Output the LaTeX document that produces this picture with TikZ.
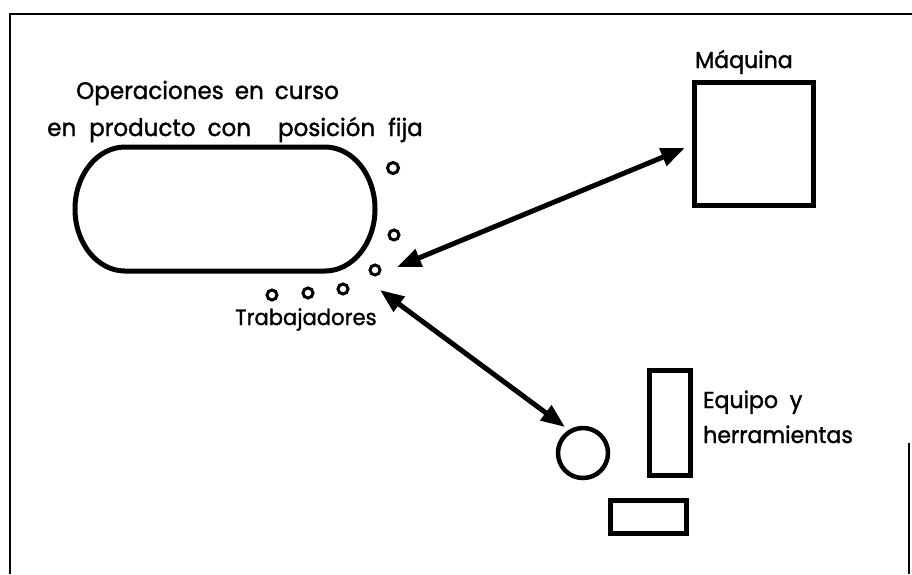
\documentclass[tikz,border=0pt]{standalone}
\usepackage{fontspec}
\setmainfont{Poppins}[FakeStretch=0.96,FakeBold=1.4]
\usetikzlibrary{arrows.meta}

\begin{document}
\begin{tikzpicture}[x=1pt,y=-1pt,
  thick line/.style={line width=5pt},
  box/.style={draw,line width=5pt,inner sep=0pt},
  worker/.style={draw,circle,line width=3pt,minimum size=10pt,inner sep=0pt},
  label/.style={font=\fontsize{23}{26}\selectfont,inner sep=0pt,anchor=base west},
  link/.style={line width=5pt,{Triangle[length=24pt,width=18pt]}-{Triangle[length=24pt,width=18pt]}}]
\useasboundingbox (0,0) rectangle (912,574);
\fill[white] (0,0) rectangle (912,574);

% frame
\draw[line width=2.5pt] (10,574) -- (10,14) -- (912,14);
\draw[line width=2.5pt] (909,443) -- (909,574);

% product in fixed position
\draw[thick line] (125,147) -- (325,147)
  arc[start angle=-90,end angle=90,x radius=50,y radius=62]
  -- (125,271)
  arc[start angle=90,end angle=270,x radius=50,y radius=62] -- cycle;
\node[label,font=\fontsize{24}{27}\selectfont] (title1) at (76,99)
  {Operaciones\hspace{11pt}en\hspace{11pt}curso};
\node[label,font=\fontsize{24}{27}\selectfont] (title2) at (47,136)
  {en\hspace{13pt}producto\hspace{12pt}con\hspace{27pt}posición\hspace{13pt}fija};

% workers
\node[worker,minimum size=11pt] (w1) at (393,168) {};
\node[worker] (w2) at (394,235) {};
\node[worker] (w3) at (375,270) {};
\node[worker] (w4) at (343,289) {};
\node[worker] (w5) at (308,293) {};
\node[worker] (w6) at (272,295) {};
\node[label,font=\fontsize{22}{25}\selectfont] (wlabel) at (235,325) {Trabajadores};

% machine
\node[box,minimum width=119pt,minimum height=123pt] (mach) at (753.5,143.5) {};
\node[label] (mlabel) at (695,68) {Máquina};

% equipment and tools
\node[draw,circle,line width=4.5pt,minimum size=50pt,inner sep=0pt] (tool) at (583,453) {};
\node[box,minimum width=41pt,minimum height=105pt] (rack) at (669.5,422.5) {};
\node[box,minimum width=76pt,minimum height=33pt] (bench) at (648,516.5) {};
\node[label] (elabel1) at (703,408) {Equipo\ \ y};
\node[label] (elabel2) at (703,443) {herramientas};

% movements
\coordinate (hubA) at (397,267);
\coordinate (machIn) at (685,148);
\coordinate (hubB) at (380,290);
\coordinate (toolIn) at (565,427);
\draw[link] (hubA) -- (machIn);
\draw[link] (hubB) -- (toolIn);
\end{tikzpicture}
\end{document}
